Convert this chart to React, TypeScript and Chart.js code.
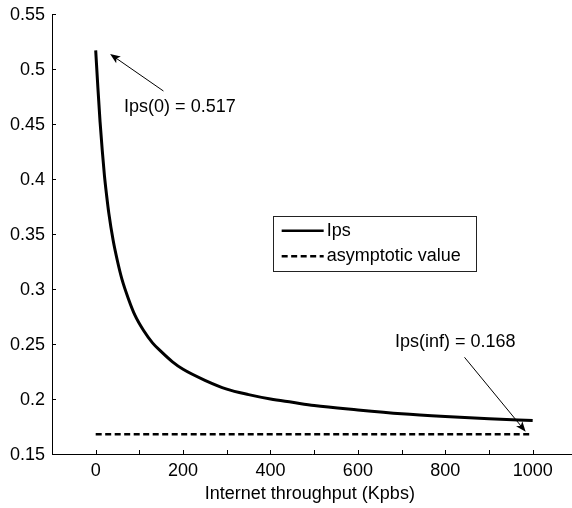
import { useEffect, useRef } from 'react';
import { Chart, registerables } from 'chart.js';

Chart.register(...registerables);

// ---- data ----
const throughput = [0, 5, 10, 15, 20, 25, 30, 40, 50, 60, 75, 90, 110, 130, 150, 175, 200, 250, 300, 350, 400, 450, 500, 600, 700, 800, 900, 1000];
const ipsValues = [0.517, 0.483, 0.452, 0.426, 0.403, 0.385, 0.369, 0.344, 0.325, 0.309, 0.291, 0.276, 0.262, 0.251, 0.243, 0.234, 0.227, 0.217, 0.209, 0.204, 0.2, 0.197, 0.194, 0.19, 0.1865, 0.184, 0.182, 0.1805];
const asymptoteX = [0, 1000];
const asymptoteValue = 0.168;
const seriesNames = ['Ips', 'asymptotic value'];
const xLabelTicks = [0, 200, 400, 600, 800, 1000];
const xMinorTicks = [0, 100, 200, 300, 400, 500, 600, 700, 800, 900, 1000];
const yTicks = [0.15, 0.2, 0.25, 0.3, 0.35, 0.4, 0.45, 0.5, 0.55];
const yTickLabels = ['0.15', '0.2', '0.25', '0.3', '0.35', '0.4', '0.45', '0.5', '0.55'];
const xTitle = 'Internet throughput (Kpbs)';
const annotationTexts = ['Ips(0) = 0.517', 'Ips(inf) = 0.168'];
// annotation anchors in data units: [textX, textY, arrowFromX, arrowFromY, arrowToX, arrowToY]
const annotationAnchors = [
  [65, 0.4657, 155, 0.48, 33, 0.5136],
  [685, 0.2521, 844, 0.2379, 984, 0.1703],
];
// legend box corners in data units: [left, top, right, bottom]
const legendBox = [405, 0.3664, 869.5, 0.3164];

const FONT = '"Liberation Sans", Arial, Helvetica, sans-serif';

function drawArrow(ctx: CanvasRenderingContext2D, x1: number, y1: number, x2: number, y2: number) {
  const ang = Math.atan2(y2 - y1, x2 - x1);
  const len = 11;
  const spread = 0.38;
  ctx.save();
  ctx.strokeStyle = '#000';
  ctx.fillStyle = '#000';
  ctx.lineWidth = 1;
  ctx.beginPath();
  ctx.moveTo(x1, y1);
  ctx.lineTo(x2 - Math.cos(ang) * 4, y2 - Math.sin(ang) * 4);
  ctx.stroke();
  const ax = x2 - Math.cos(ang - spread) * len;
  const ay = y2 - Math.sin(ang - spread) * len;
  const bx = x2 - Math.cos(ang + spread) * len;
  const by = y2 - Math.sin(ang + spread) * len;
  const nx = x2 - Math.cos(ang) * len * 0.7;
  const ny = y2 - Math.sin(ang) * len * 0.7;
  ctx.beginPath();
  ctx.moveTo(x2, y2);
  ctx.lineTo(ax, ay);
  ctx.lineTo(nx, ny);
  ctx.lineTo(bx, by);
  ctx.closePath();
  ctx.fill();
  ctx.restore();
}

const overlayPlugin = {
  id: 'overlay',
  afterDraw(chart: any) {
    const ctx: CanvasRenderingContext2D = chart.ctx;
    const xs = chart.scales.x;
    const ys = chart.scales.y;
    const area = chart.chartArea;
    ctx.save();
    // axes lines
    ctx.strokeStyle = '#000';
    ctx.lineWidth = 1;
    ctx.beginPath();
    ctx.moveTo(area.left + 0.5, area.top);
    ctx.lineTo(area.left + 0.5, area.bottom + 0.5);
    ctx.lineTo(area.right, area.bottom + 0.5);
    ctx.stroke();
    // inward ticks
    ctx.beginPath();
    xMinorTicks.forEach((v) => {
      const px = Math.round(xs.getPixelForValue(v)) + 0.5;
      ctx.moveTo(px, area.bottom);
      ctx.lineTo(px, area.bottom - 4);
    });
    yTicks.forEach((v) => {
      const py = Math.round(ys.getPixelForValue(v)) + 0.5;
      ctx.moveTo(area.left, py);
      ctx.lineTo(area.left + 4, py);
    });
    ctx.stroke();

    // tick labels
    ctx.fillStyle = '#000';
    ctx.font = `18px ${FONT}`;
    ctx.textBaseline = 'middle';
    ctx.textAlign = 'right';
    yTicks.forEach((v, i) => {
      ctx.fillText(yTickLabels[i], area.left - 7, ys.getPixelForValue(v) + 1);
    });
    ctx.textAlign = 'center';
    xLabelTicks.forEach((v) => {
      ctx.fillText(String(v), xs.getPixelForValue(v), area.bottom + 17);
    });

    // x title
    ctx.fillText(xTitle, xs.getPixelForValue(490), area.bottom + 40);

    // legend
    const lx1 = xs.getPixelForValue(legendBox[0]);
    const ly1 = ys.getPixelForValue(legendBox[1]);
    const lx2 = xs.getPixelForValue(legendBox[2]);
    const ly2 = ys.getPixelForValue(legendBox[3]);
    ctx.fillStyle = '#fff';
    ctx.fillRect(lx1, ly1, lx2 - lx1, ly2 - ly1);
    ctx.strokeStyle = '#222';
    ctx.lineWidth = 1;
    ctx.strokeRect(Math.round(lx1) + 0.5, Math.round(ly1) + 0.5, Math.round(lx2 - lx1), Math.round(ly2 - ly1));
    const rowH = (ly2 - ly1) / 2;
    seriesNames.forEach((name, i) => {
      const cy = ly1 + rowH * (i + 0.5) + (i === 0 ? 1 : -1);
      ctx.strokeStyle = '#000';
      ctx.lineWidth = 2.5;
      ctx.setLineDash(i === 1 ? [6, 3.5] : []);
      ctx.beginPath();
      ctx.moveTo(lx1 + 9, cy);
      ctx.lineTo(lx1 + 51, cy);
      ctx.stroke();
      ctx.setLineDash([]);
      ctx.fillStyle = '#000';
      ctx.font = `18px ${FONT}`;
      ctx.textAlign = 'left';
      ctx.textBaseline = 'middle';
      ctx.fillText(name, lx1 + 54, cy);
    });

    // annotations
    annotationTexts.forEach((t, i) => {
      const a = annotationAnchors[i];
      ctx.fillStyle = '#000';
      ctx.font = `18px ${FONT}`;
      ctx.textAlign = 'left';
      ctx.textBaseline = 'middle';
      ctx.fillText(t, xs.getPixelForValue(a[0]), ys.getPixelForValue(a[1]));
      drawArrow(ctx, xs.getPixelForValue(a[2]), ys.getPixelForValue(a[3]), xs.getPixelForValue(a[4]), ys.getPixelForValue(a[5]));
    });
    ctx.restore();
  },
};

export default function App() {
  const ref = useRef<HTMLCanvasElement | null>(null);
  useEffect(() => {
    document.body.style.margin = '0';
    const canvas = ref.current;
    if (!canvas) return;
    Chart.defaults.font.family = FONT;
    Chart.defaults.color = '#000';
    const chart = new Chart(canvas, {
      type: 'scatter',
      data: {
        datasets: [
          {
            label: seriesNames[0],
            data: throughput.map((x, i) => ({ x, y: ipsValues[i] })),
            showLine: true,
            borderColor: '#000',
            borderWidth: 3,
            pointRadius: 0,
            cubicInterpolationMode: 'monotone',
          },
          {
            label: seriesNames[1],
            data: asymptoteX.map((x) => ({ x, y: asymptoteValue })),
            showLine: true,
            borderColor: '#000',
            borderWidth: 2.5,
            borderDash: [6, 3.5],
            pointRadius: 0,
          },
        ],
      },
      options: {
        responsive: false,
        animation: false,
        layout: { padding: { top: 14, right: 0, left: 0, bottom: 0 } },
        plugins: { legend: { display: false }, tooltip: { enabled: false } },
        scales: {
          x: {
            type: 'linear',
            min: -100,
            max: 1090,
            grid: { display: false },
            border: { display: false },
            ticks: { display: false },
            afterBuildTicks: (scale: any) => {
              scale.ticks = xLabelTicks.map((v) => ({ value: v }));
            },
            afterFit: (scale: any) => {
              scale.height = 54;
            },
          },
          y: {
            type: 'linear',
            min: 0.15,
            max: 0.55,
            grid: { display: false },
            border: { display: false },
            ticks: { display: false },
            afterBuildTicks: (scale: any) => {
              scale.ticks = yTicks.map((v) => ({ value: v }));
            },
            afterFit: (scale: any) => {
              scale.width = 52;
            },
          },
        },
      },
      plugins: [overlayPlugin],
    } as any);
    return () => chart.destroy();
  }, []);
  return <canvas ref={ref} width={572} height={508} style={{ display: 'block' }} />;
}
